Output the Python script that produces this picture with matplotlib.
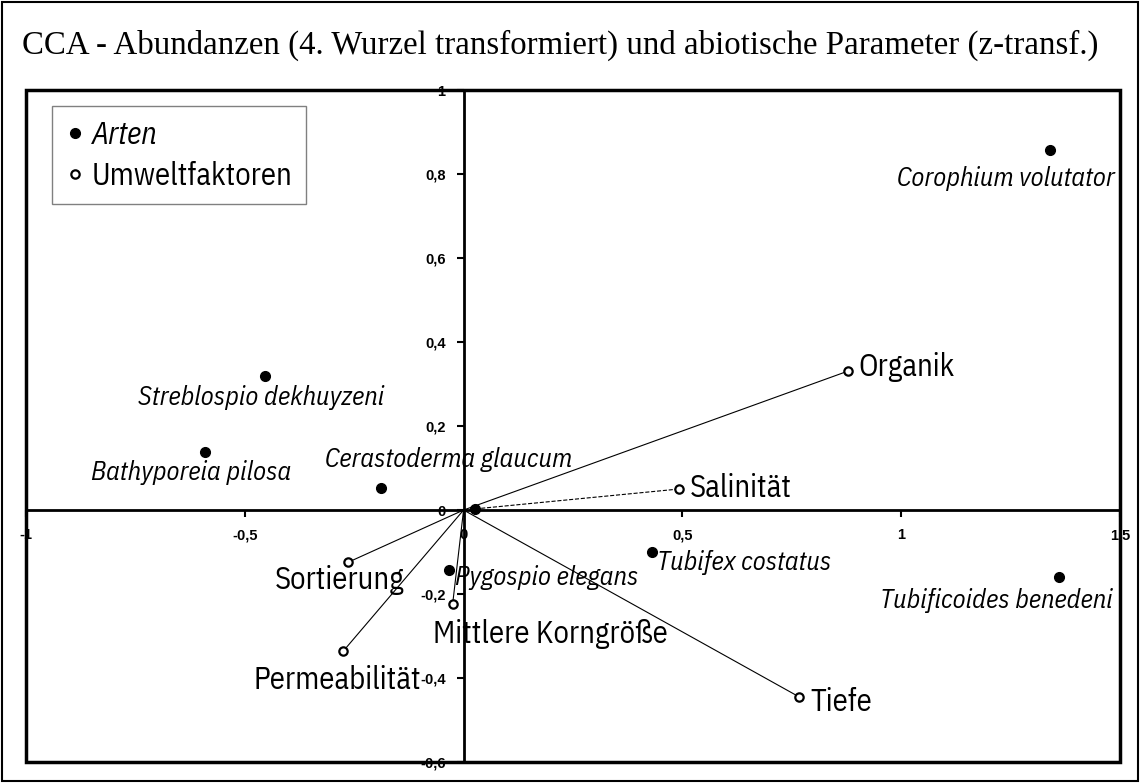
import matplotlib
matplotlib.use("Agg")
import matplotlib.pyplot as plt
from matplotlib.patches import Rectangle
from matplotlib.lines import Line2D
from matplotlib.ticker import FuncFormatter

# species scores (Arten)
species = ["Corophium volutator", "Tubificoides benedeni", "Streblospio dekhuyzeni",
           "Bathyporeia pilosa", "Cerastoderma glaucum", "Pygospio elegans",
           "Tubifex costatus", ""]
species_x = [1.34, 1.36, -0.453, -0.59, -0.188, -0.034, 0.43, 0.025]
species_y = [0.857, -0.16, 0.319, 0.138, 0.052, -0.143, -0.10, 0.003]

# environmental vectors (Umweltfaktoren)
env = ["Organik", "Salinität", "Tiefe", "Sortierung", "Permeabilität", "Mittlere Korngröße"]
env_x = [0.879, 0.492, 0.767, -0.263, -0.275, -0.025]
env_y = [0.331, 0.050, -0.445, -0.124, -0.336, -0.224]

xticks = [-1, -0.5, 0, 0.5, 1, 1.5]
yticks = [-0.6, -0.4, -0.2, 0, 0.2, 0.4, 0.6, 0.8, 1]

# label placement (offset in pixels, horizontal alignment)
species_offsets = [(65, -28, "right"), (54, -23, "right"), (-4, -21, "center"),
                   (-14, -20, "center"), (-56, 29, "left"), (6, -7, "left"),
                   (5, -10, "left"), (0, 0, "left")]
env_offsets = [(10, 4, "left"), (11, 1, "left"), (11, -5, "left"),
               (-9, -18, "center"), (-6, -29, "center"), (-20, -30, "left")]

narrow = ["IBM Plex Sans Condensed", "DejaVu Sans"]

fig = plt.figure(figsize=(11.4, 7.83), dpi=100)
ax = fig.add_axes([0.0228, 0.0268, 0.9596, 0.8582])

# outer border of the figure
fig.patches.append(Rectangle((0.002, 0.002), 0.996, 0.996, transform=fig.transFigure,
                             fill=False, lw=1.5, ec="black"))

fig.text(0.019, 0.9425, "CCA - Abundanzen (4. Wurzel transformiert) und abiotische Parameter (z-transf.)",
         family="Liberation Serif", fontsize=23.7, ha="left", va="center")

# vectors
for i, name in enumerate(env):
    ls = "--" if name == "Salinität" else "-"
    ax.plot([0, env_x[i]], [0, env_y[i]], color="black", lw=0.8, ls=ls, zorder=2)
ax.plot(env_x, env_y, "o", ms=6, mfc="white", mec="black", mew=1.6, ls="none", zorder=3)
ax.plot(species_x, species_y, "o", ms=7, color="black", ls="none", zorder=3)

for i, name in enumerate(species):
    if not name:
        continue
    dx, dy, ha = species_offsets[i]
    ax.annotate(name, (species_x[i], species_y[i]), xytext=(dx, dy), textcoords="offset pixels",
                ha=ha, va="center", fontsize=19, style="italic", family=narrow)

for i, name in enumerate(env):
    dx, dy, ha = env_offsets[i]
    ax.annotate(name, (env_x[i], env_y[i]), xytext=(dx, dy), textcoords="offset pixels",
                ha=ha, va="center", fontsize=22, family=narrow)

ax.set_xlim(-1, 1.5)
ax.set_ylim(-0.6, 1)

# axes crossing at the origin
ax.spines["left"].set_position(("data", 0))
ax.spines["bottom"].set_position(("data", 0))
for s in ax.spines.values():
    s.set_linewidth(2)
ax.add_patch(Rectangle((0, 0), 1, 1, transform=ax.transAxes, fill=False, lw=2.5,
                       ec="black", clip_on=False, zorder=5))

fmt = FuncFormatter(lambda v, p: ("%g" % v).replace(".", ","))
ax.set_xticks(xticks)
ax.set_yticks(yticks)
ax.xaxis.set_major_formatter(fmt)
ax.yaxis.set_major_formatter(fmt)
ax.tick_params(direction="out", length=5, width=1.5, labelsize=10.5, pad=8)
for lab in ax.get_xticklabels() + ax.get_yticklabels():
    lab.set_fontweight("bold")
    lab.set_family("Liberation Sans")

handles = [Line2D([], [], marker="o", ls="none", color="black", ms=7),
           Line2D([], [], marker="o", ls="none", mfc="white", mec="black", mew=1.6, ms=6)]
leg = ax.legend(handles, ["Arten", "Umweltfaktoren"], loc="upper left",
                bbox_to_anchor=(0.024, 0.976), borderaxespad=0, fancybox=False,
                edgecolor="gray", framealpha=1, prop={"family": narrow, "size": 22},
                handletextpad=0.25, handlelength=0.6, labelspacing=0.35, borderpad=0.45)
leg.get_frame().set_linewidth(1)
leg.get_texts()[0].set_style("italic")

fig.savefig("out.png", dpi=100)
